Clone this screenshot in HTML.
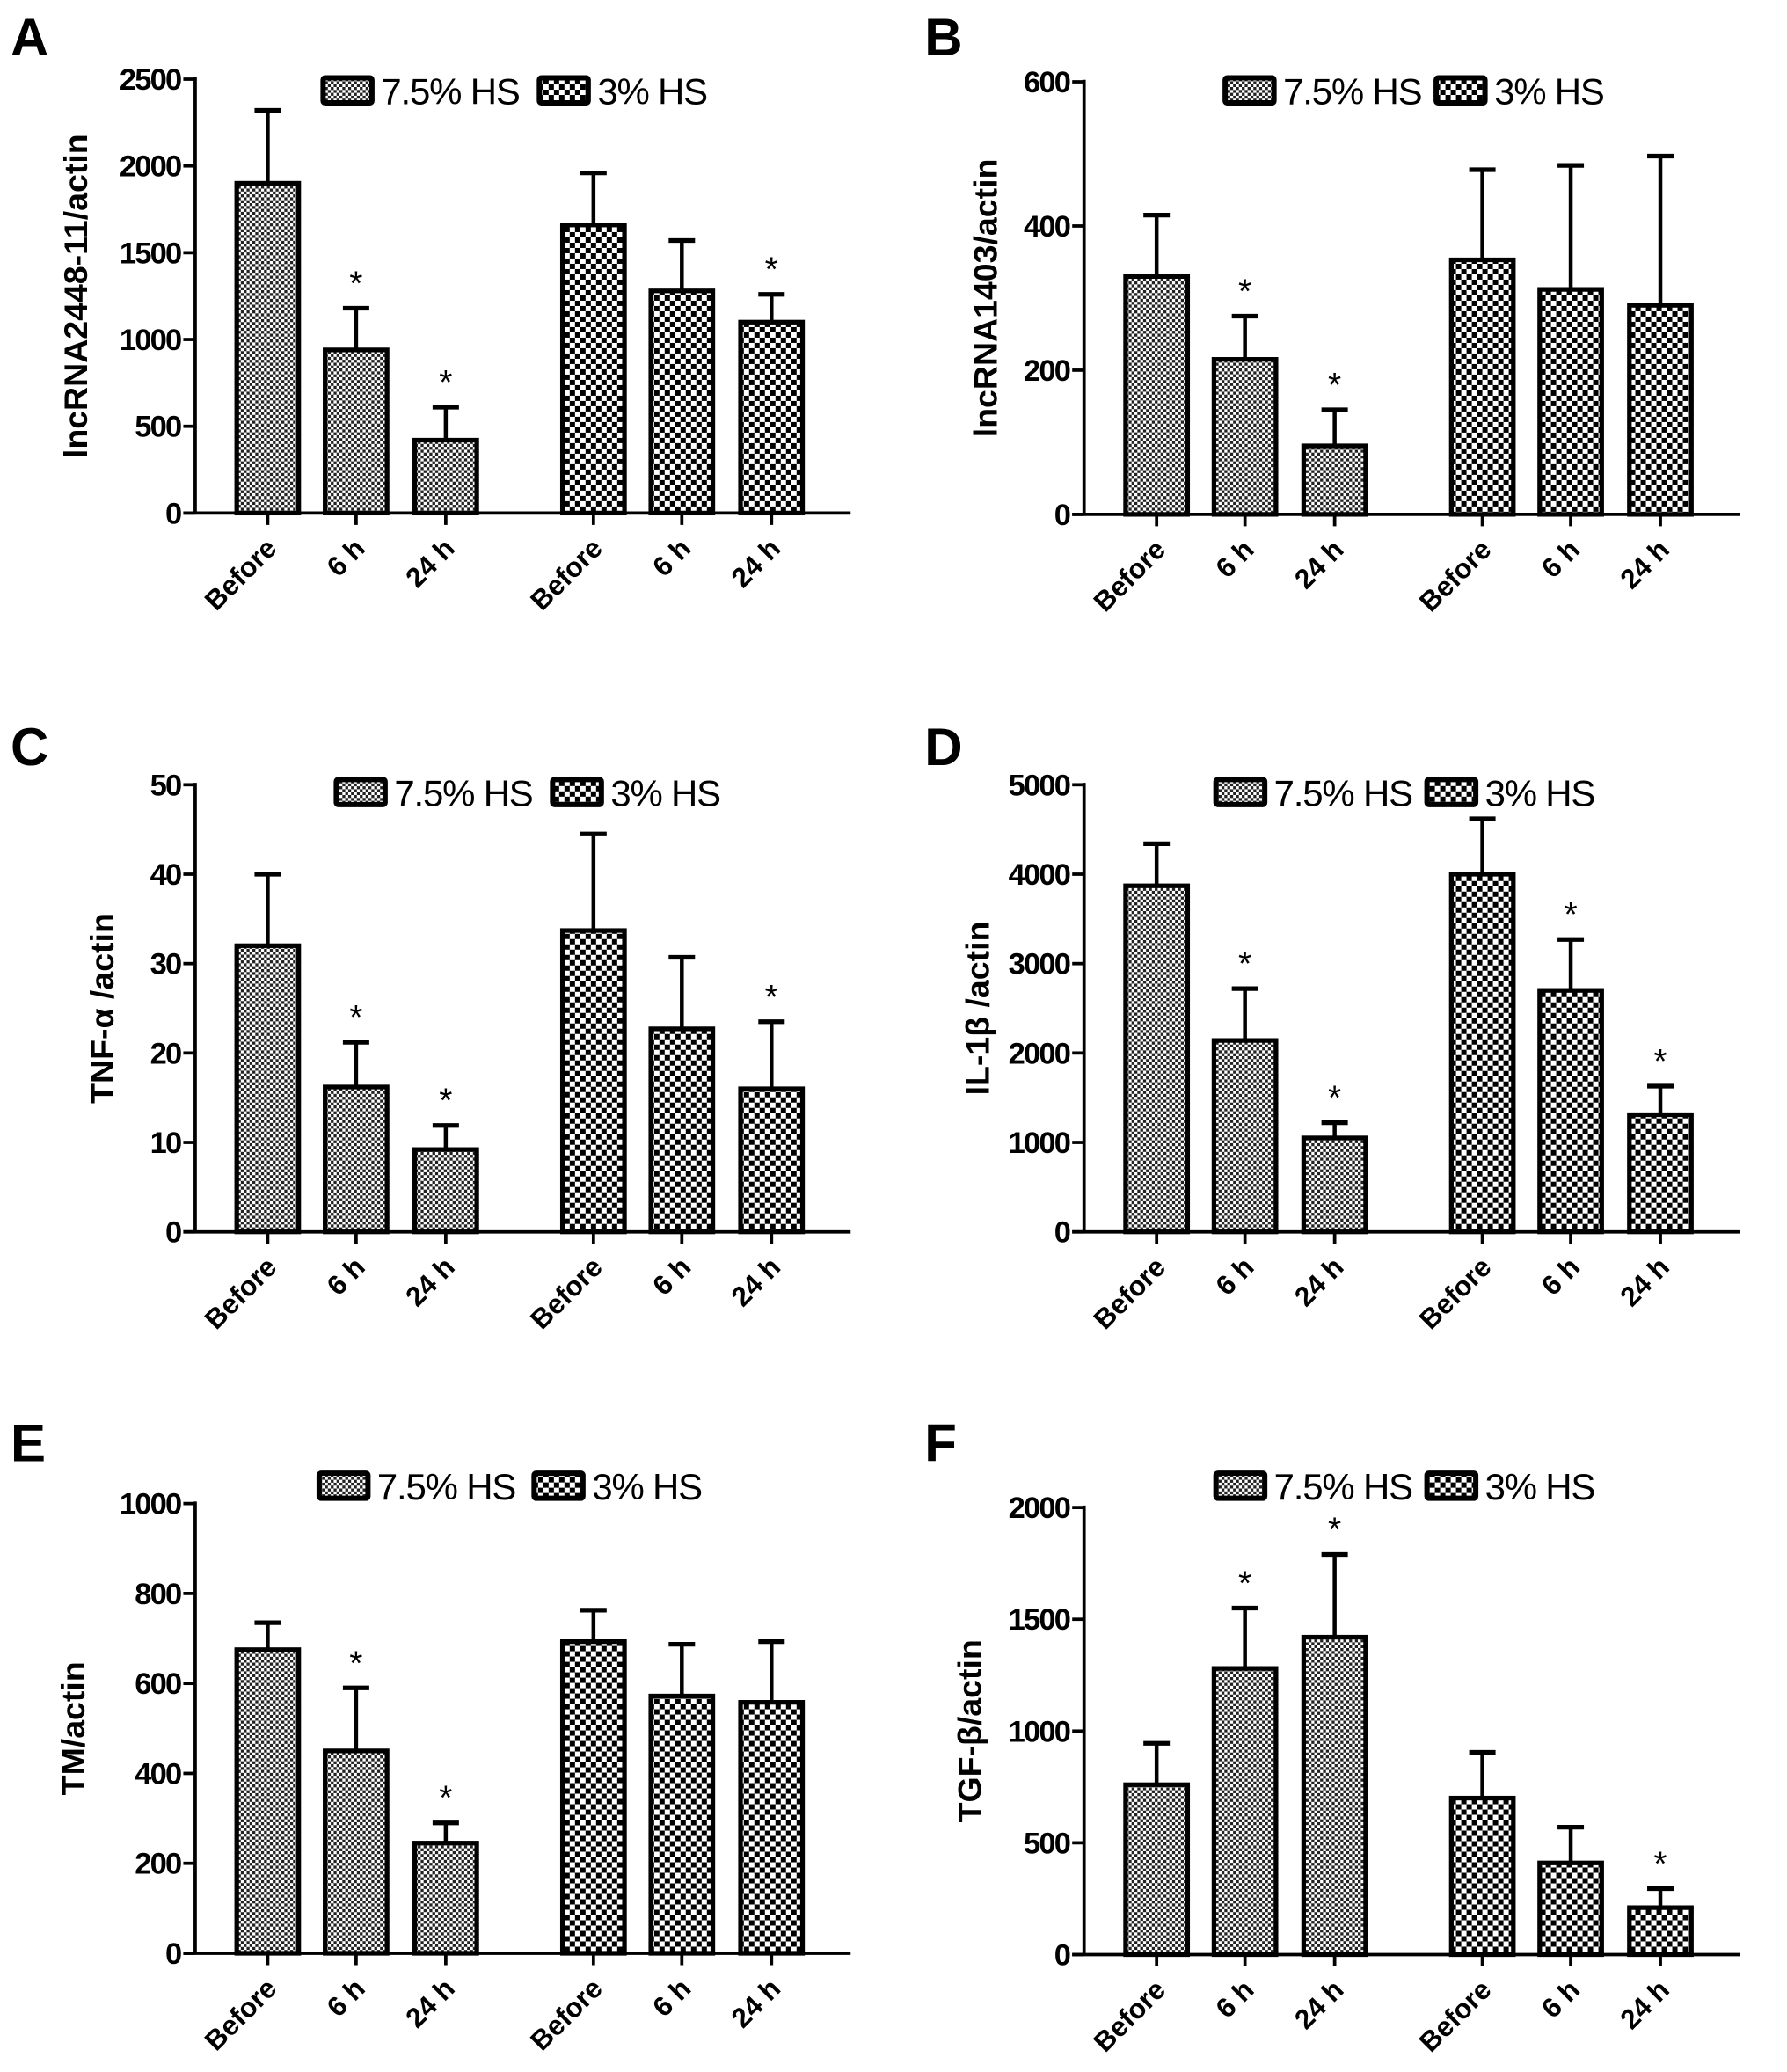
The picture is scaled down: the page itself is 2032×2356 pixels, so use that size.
<!DOCTYPE html>
<html><head><meta charset="utf-8"><style>
html,body{margin:0;padding:0;background:#fff}
svg{display:block}
text{font-family:"Liberation Sans",Arial,sans-serif}
</style></head><body>
<svg id="fig" xmlns="http://www.w3.org/2000/svg" width="2032" height="2356" viewBox="0 0 1355 1571">
<defs>
<pattern id="pFine" patternUnits="userSpaceOnUse" width="4.4" height="4.4">
<rect width="4.4" height="4.4" fill="#fff"/><rect width="2.2" height="2.2" fill="#222"/><rect x="2.2" y="2.2" width="2.2" height="2.2" fill="#222"/>
</pattern>
<pattern id="pCoarse" patternUnits="userSpaceOnUse" width="8" height="8">
<rect width="8" height="8" fill="#fff"/><rect width="4" height="4" fill="#000"/><rect x="4" y="4" width="4" height="4" fill="#000"/>
</pattern>
</defs>
<g id="root"></g>
</svg>
<script>
const categories = ["Before","6 h","24 h","Before","6 h","24 h"];
const seriesNames = ["7.5% HS","3% HS"];
const valsA = [1900,940,420,1660,1280,1100];
const errA  = [420,240,190,300,290,160];
const starA = [0,1,1,0,0,1];
const valsB = [330,215,95,353,312,290];
const errB  = [85,60,50,125,172,207];
const starB = [0,1,1,0,0,0];
const valsC = [32,16.2,9.2,33.7,22.7,16];
const errC  = [8,5,2.7,10.8,8,7.5];
const starC = [0,1,1,0,0,1];
const valsD = [3870,2140,1050,4000,2700,1310];
const errD  = [470,580,170,620,570,320];
const starD = [0,1,1,0,1,1];
const valsE = [675,450,245,693,572,558];
const errE  = [60,140,45,70,115,135];
const starE = [0,1,1,0,0,0];
const valsF = [760,1280,1420,700,410,210];
const errF  = [185,270,370,205,160,85];
const starF = [0,1,1,0,0,1];
const ticksA = [0,500,1000,1500,2000,2500];
const ticksB = [0,200,400,600];
const ticksC = [0,10,20,30,40,50];
const ticksD = [0,1000,2000,3000,4000,5000];
const ticksE = [0,200,400,600,800,1000];
const ticksF = [0,500,1000,1500,2000];

const NS="http://www.w3.org/2000/svg";
const root=document.getElementById('root');
function mk(tag,attrs,parent){const e=document.createElementNS(NS,tag);for(const k in attrs)e.setAttribute(k,attrs[k]);(parent||root).appendChild(e);return e;}

const panels=[
 {id:'a',letter:'A',ax:148,y0:389,yT:60,vals:valsA,err:errA,star:starA,ticks:ticksA,title:'lncRNA2448-11/actin',tx:66,leg:[243,407],ly:58,lx:0,ltY:42},
 {id:'b',letter:'B',ax:822,y0:390,yT:62,vals:valsB,err:errB,star:starB,ticks:ticksB,title:'lncRNA1403/actin',tx:756,leg:[927,1087],ly:58,lx:693,ltY:42},
 {id:'c',letter:'C',ax:148,y0:934,yT:595,vals:valsC,err:errC,star:starC,ticks:ticksC,title:'TNF-α /actin',tx:86,leg:[253,417],ly:590,lx:0,ltY:580},
 {id:'d',letter:'D',ax:822,y0:934,yT:595,vals:valsD,err:errD,star:starD,ticks:ticksD,title:'IL-1β /actin',tx:750,leg:[920,1080],ly:590,lx:693,ltY:580},
 {id:'e',letter:'E',ax:148,y0:1481,yT:1140,vals:valsE,err:errE,star:starE,ticks:ticksE,title:'TM/actin',tx:64,leg:[240,403],ly:1116,lx:0,ltY:1108},
 {id:'f',letter:'F',ax:822,y0:1482,yT:1143,vals:valsF,err:errF,star:starF,ticks:ticksF,title:'TGF-β/actin',tx:744,leg:[920,1080],ly:1116,lx:693,ltY:1108}
];
const offs=[55,122,190,302,369,437];
const BW=47;

panels.forEach(p=>{
  const g=mk('g',{});
  
  
  const max=p.ticks[p.ticks.length-1];
  const y=v=>p.y0-(v/max)*(p.y0-p.yT);
  const x=i=>p.ax+offs[i];
  const lt=mk('text',{x:p.lx+8,y:p.ltY,'font-size':40,'font-weight':'bold'},g);
  lt.textContent=p.letter;
  
  
  const yl=mk('line',{x1:p.ax,y1:p.yT-1.5,x2:p.ax,y2:p.y0,stroke:'#000','stroke-width':2.5},g);
  
  
  p.ticks.forEach(t=>{
    mk('line',{x1:p.ax-9,y1:y(t),x2:p.ax,y2:y(t),stroke:'#000','stroke-width':2.5},g);
    const tl=mk('text',{x:p.ax-11,y:y(t)+8,'font-size':23,'font-weight':'bold','text-anchor':'end','letter-spacing':-1.2},g);
    tl.textContent=t;
    
    
  });
  const xl=mk('line',{x1:p.ax-9,y1:p.y0,x2:p.ax+497,y2:p.y0,stroke:'#000','stroke-width':2.5},g);
  
  
  const yt=mk('text',{x:0,y:0,'font-size':25,'font-weight':'bold','text-anchor':'middle',transform:`translate(${p.tx},${(p.yT+p.y0)/2}) rotate(-90)`},g);
  yt.textContent=p.title;
  
  
  p.vals.forEach((v,i)=>{
    const cx=x(i), top=y(v), et=y(v+p.err[i]);
    mk('line',{x1:cx,y1:top,x2:cx,y2:et,stroke:'#000','stroke-width':3},g);
    mk('line',{x1:cx-10,y1:et,x2:cx+10,y2:et,stroke:'#000','stroke-width':3.5},g);
    const b=mk('rect',{x:cx-BW/2,y:top,width:BW,height:p.y0-top,fill:i<3?'url(#pFine)':'url(#pCoarse)',stroke:'#000','stroke-width':3.5},g);
    
    
    mk('line',{x1:cx,y1:p.y0,x2:cx,y2:p.y0+9,stroke:'#000','stroke-width':2.5},g);
    const cl=mk('text',{x:0,y:0,'font-size':21,'font-weight':'bold','text-anchor':'end',transform:`translate(${cx+8},${p.y0+28}) rotate(-45)`},g);
    cl.textContent=categories[i];
    
    
    if(p.star[i]){
      const s=mk('text',{x:cx,y:et-10,'font-size':26,'text-anchor':'middle'},g);
      s.textContent='*';
      
      
    }
  });
  seriesNames.forEach((n,k)=>{
    const lx=p.leg[k];
    const r=mk('rect',{x:lx+2,y:p.ly+1,width:37,height:19,fill:k?'url(#pCoarse)':'url(#pFine)',stroke:'#000','stroke-width':4,rx:1.5},g);
    
    
    const t=mk('text',{x:lx+46,y:p.ly+21,'font-size':28,'letter-spacing':-0.8},g);
    t.textContent=n;
    
    
  });
});
</script>
</body></html>
